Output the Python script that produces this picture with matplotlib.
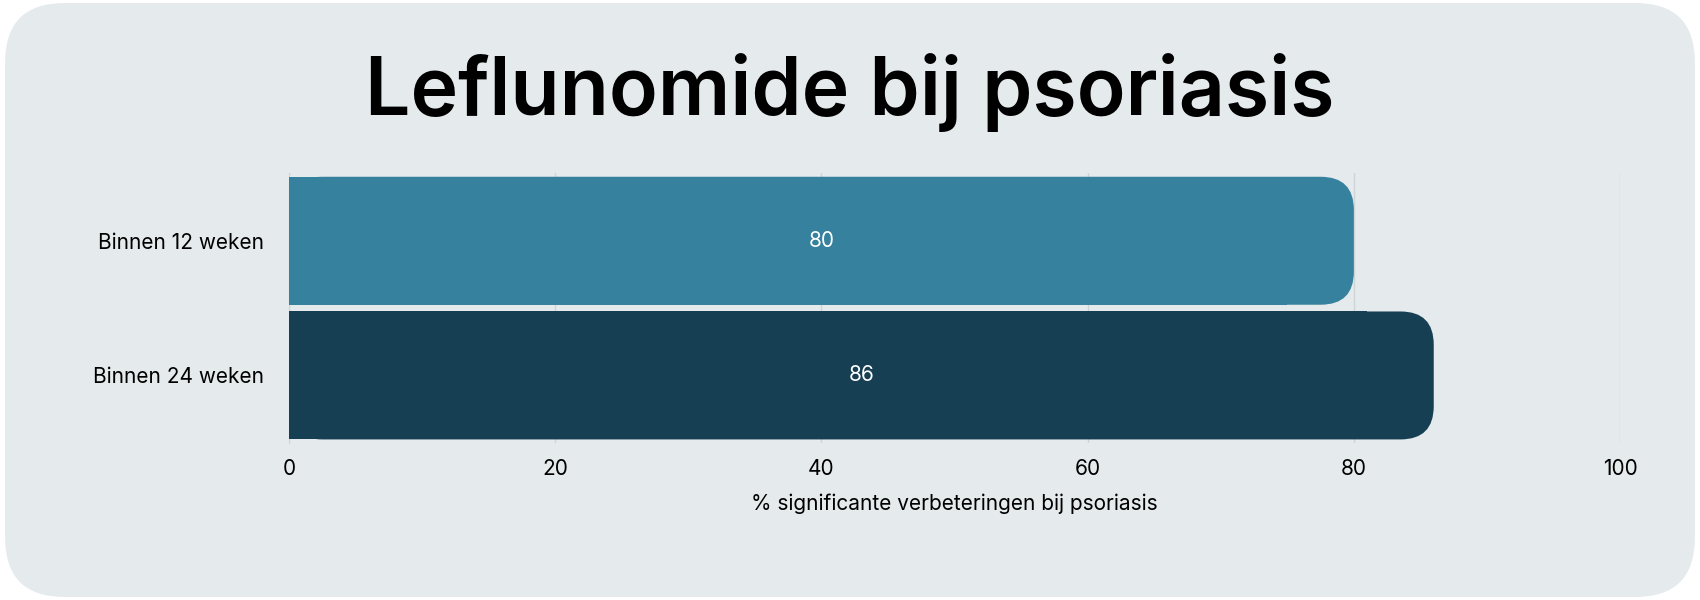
import matplotlib
matplotlib.use("Agg")
import matplotlib.pyplot as plt
from matplotlib.patches import FancyBboxPatch, Rectangle

categories = ["Binnen 12 weken", "Binnen 24 weken"]
values = [80, 86]
colors = ["#36819e", "#173f54"]
ticks = [0, 20, 40, 60, 80, 100]

plt.rcParams['font.family'] = ['Inter', 'DejaVu Sans']
fig = plt.figure(figsize=(17, 6), dpi=100)
fig.patch.set_facecolor("white")
bg = FancyBboxPatch((0.003, 0.005), 0.994, 0.99, boxstyle="round,pad=0,rounding_size=0.035",
                    transform=fig.transFigure, facecolor="#e5eaec", edgecolor="none",
                    mutation_aspect=17/6, zorder=-10)
fig.patches.append(bg)

ax = fig.add_axes([0.170, 0.262, 0.783, 0.449])
ax.set_zorder(5)
ax.set_facecolor("none")
ax.set_xlim(0, 100)
ax.set_ylim(1.5, -0.5)
h = 0.95
r = 2.5
asp = (2 / (0.449 * 600)) / (100 / (0.783 * 1700))
for i, (v, c) in enumerate(zip(values, colors)):
    ax.add_patch(FancyBboxPatch((0, i - h / 2), v, h, boxstyle=f"round,pad=0,rounding_size={r}",
                                mutation_aspect=asp, facecolor=c, edgecolor="none", zorder=3))
    ax.add_patch(Rectangle((0, i - h / 2), v - 2 * r, h, facecolor=c, edgecolor="none", zorder=3))
    ax.text(v / 2, i, str(v), color="white", ha="center", va="center", fontsize=15, zorder=4)

ax.set_xticks(ticks)
ax.set_xticklabels([str(t) for t in ticks], fontsize=15)
ax.set_yticks(range(len(categories)))
ax.set_yticklabels(categories, fontsize=15)
ax.tick_params(length=0, pad=12)
ax.tick_params(axis='y', pad=18)
ax.grid(axis='x', color="#cfd4d6", linewidth=1, zorder=0)
for s in ["top", "right", "bottom"]:
    ax.spines[s].set_visible(False)
ax.spines["left"].set_color("#cfd4d6")
ax.set_xlabel("% significante verbeteringen bij psoriasis", fontsize=15, labelpad=10)
fig.text(0.5, 0.845, "Leflunomide bij psoriasis", ha="center", va="center",
         fontsize=58, fontweight="semibold", color="black")
fig.savefig("out.png", dpi=100)
